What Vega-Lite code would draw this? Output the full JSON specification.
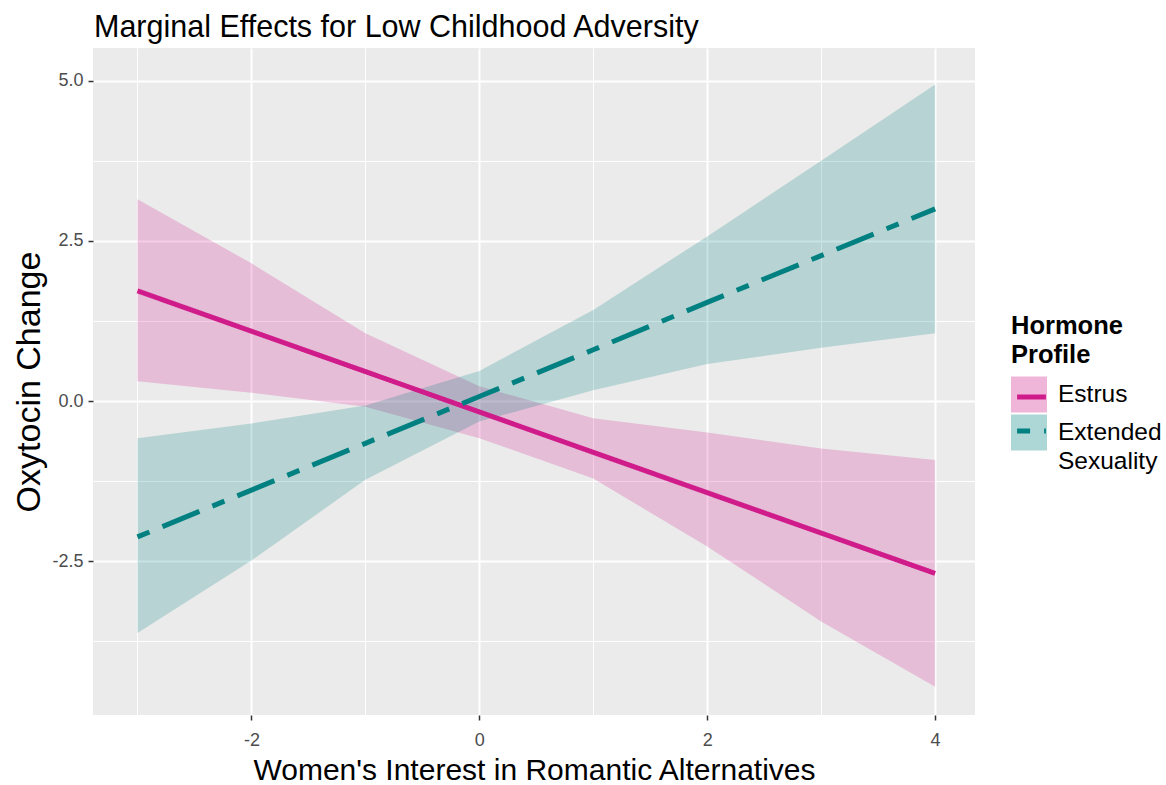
{
  "$schema": "https://vega.github.io/schema/vega-lite/v6.json",
  "width": 882,
  "height": 667,
  "autosize": {"type": "none"},
  "padding": {"left": 93, "top": 48, "right": 191, "bottom": 70},
  "background": "white",
  "title": {
    "text": "Marginal Effects for Low Childhood Adversity",
    "anchor": "start",
    "frame": "group",
    "font": "Liberation Sans",
    "fontSize": 30.5,
    "fontWeight": "normal",
    "color": "#000000",
    "offset": 5,
    "dx": 1
  },
  "config": {
    "view": {"fill": "#EBEBEB", "stroke": null},
    "font": "Liberation Sans"
  },
  "datasets": {
    "ribbons": [
      {"x": -3, "lower": 0.31, "upper": 3.15, "group": "Estrus"},
      {"x": -2, "lower": 0.13, "upper": 2.15, "group": "Estrus"},
      {"x": -1, "lower": -0.09, "upper": 1.06, "group": "Estrus"},
      {"x": 0, "lower": -0.58, "upper": 0.23, "group": "Estrus"},
      {"x": 1, "lower": -1.21, "upper": -0.27, "group": "Estrus"},
      {"x": 2, "lower": -2.27, "upper": -0.49, "group": "Estrus"},
      {"x": 3, "lower": -3.44, "upper": -0.74, "group": "Estrus"},
      {"x": 4, "lower": -4.46, "upper": -0.92, "group": "Estrus"},
      {"x": -3, "lower": -3.62, "upper": -0.58, "group": "Extended Sexuality"},
      {"x": -2, "lower": -2.49, "upper": -0.35, "group": "Extended Sexuality"},
      {"x": -1, "lower": -1.23, "upper": -0.07, "group": "Extended Sexuality"},
      {"x": 0, "lower": -0.32, "upper": 0.47, "group": "Extended Sexuality"},
      {"x": 1, "lower": 0.17, "upper": 1.42, "group": "Extended Sexuality"},
      {"x": 2, "lower": 0.58, "upper": 2.57, "group": "Extended Sexuality"},
      {"x": 3, "lower": 0.83, "upper": 3.75, "group": "Extended Sexuality"},
      {"x": 4, "lower": 1.06, "upper": 4.94, "group": "Extended Sexuality"}
    ],
    "fits": [
      {"x": -3, "fit": 1.72, "profile": "Estrus"},
      {"x": -2, "fit": 1.09, "profile": "Estrus"},
      {"x": -1, "fit": 0.46, "profile": "Estrus"},
      {"x": 0, "fit": -0.17, "profile": "Estrus"},
      {"x": 1, "fit": -0.8, "profile": "Estrus"},
      {"x": 2, "fit": -1.43, "profile": "Estrus"},
      {"x": 3, "fit": -2.06, "profile": "Estrus"},
      {"x": 4, "fit": -2.69, "profile": "Estrus"},
      {"x": -3, "fit": -2.12, "profile": "Extended Sexuality"},
      {"x": -2, "fit": -1.39, "profile": "Extended Sexuality"},
      {"x": -1, "fit": -0.66, "profile": "Extended Sexuality"},
      {"x": 0, "fit": 0.07, "profile": "Extended Sexuality"},
      {"x": 1, "fit": 0.8, "profile": "Extended Sexuality"},
      {"x": 2, "fit": 1.54, "profile": "Extended Sexuality"},
      {"x": 3, "fit": 2.27, "profile": "Extended Sexuality"},
      {"x": 4, "fit": 3.0, "profile": "Extended Sexuality"}
    ]
  },
  "layer": [
    {
      "data": {"name": "ribbons"},
      "mark": {"type": "area", "fillOpacity": 0.22},
      "encoding": {
        "x": {
          "field": "x",
          "type": "quantitative",
          "scale": {"domain": [-3.39, 4.35], "nice": false, "zero": false},
          "axis": {
            "values": [-3, -2, -1, 0, 1, 2, 3, 4],
            "labelExpr": "datum.value % 2 == 0 ? '' + datum.value : ''",
            "domain": false,
            "gridColor": "#FFFFFF",
            "gridWidth": {"condition": {"test": "datum.value % 2 == 0", "value": 2}, "value": 1},
            "tickColor": {"condition": {"test": "datum.value % 2 == 0", "value": "#333333"}, "value": "transparent"},
            "tickSize": 5,
            "tickWidth": 1.5,
            "labelFont": "Liberation Sans",
            "labelFontSize": 18,
            "labelColor": "#4D4D4D",
            "labelPadding": 11,
            "title": "Women's Interest in Romantic Alternatives",
            "titleFont": "Liberation Sans",
            "titleFontSize": 30,
            "titleFontWeight": "normal",
            "titleColor": "#000000",
            "titlePadding": 6
          }
        },
        "y": {
          "field": "upper",
          "type": "quantitative",
          "scale": {"domain": [-4.9, 5.51], "nice": false, "zero": false},
          "axis": {
            "values": [-3.75, -2.5, -1.25, 0, 1.25, 2.5, 3.75, 5],
            "labelExpr": "datum.value % 2.5 == 0 ? replace(format(datum.value, '.1f'), '\u2212', '-') : ''",
            "domain": false,
            "gridColor": "#FFFFFF",
            "gridWidth": {"condition": {"test": "datum.value % 2.5 == 0", "value": 2}, "value": 1},
            "tickColor": {"condition": {"test": "datum.value % 2.5 == 0", "value": "#333333"}, "value": "transparent"},
            "tickSize": 5,
            "tickWidth": 1.5,
            "labelFont": "Liberation Sans",
            "labelFontSize": 18,
            "labelColor": "#4D4D4D",
            "labelPadding": 5,
            "title": "Oxytocin Change",
            "titleFont": "Liberation Sans",
            "titleFontSize": 34,
            "titleFontWeight": "normal",
            "titleColor": "#000000",
            "titlePadding": 5
          }
        },
        "y2": {"field": "lower"},
        "fill": {
          "field": "group",
          "type": "nominal",
          "scale": {"domain": ["Estrus", "Extended Sexuality"], "range": ["#D01C8B", "#008080"]},
          "legend": {
            "orient": "none",
            "legendX": 918,
            "legendY": 266,
            "padding": 0,
            "title": ["Hormone", "\u00a0\u00a0Profile"],
            "titleFont": "Liberation Sans",
            "titleFontSize": 25.5,
            "titleFontWeight": "bold",
            "titleColor": "#000000",
            "titleLineHeight": 29,
            "titlePadding": 8,
            "symbolType": "square",
            "symbolSize": 1296,
            "symbolStrokeWidth": 0,
            "symbolOpacity": 0.32,
            "labelFont": "Liberation Sans",
            "labelFontSize": 24.5,
            "labelColor": "#000000",
            "labelOffset": 11,
            "rowPadding": 2,
            "labelExpr": "datum.label == 'Extended Sexuality' ? ['Extended', 'Sexuality'] : datum.label",
            "encode": {
              "symbols": {"update": {"opacity": {"value": 0.32}}},
              "labels": {"update": {"lineHeight": {"value": 29}}}
            }
          }
        }
      }
    },
    {
      "data": {"name": "fits"},
      "mark": {"type": "line", "strokeWidth": 5, "strokeCap": "butt"},
      "encoding": {
        "x": {"field": "x", "type": "quantitative"},
        "y": {"field": "fit", "type": "quantitative"},
        "stroke": {
          "field": "profile",
          "type": "nominal",
          "scale": {"range": ["#D01C8B", "#008080"]},
          "legend": {
            "orient": "none",
            "legendX": 918,
            "legendY": 266,
            "padding": 0,
            "title": ["\u00a0", "\u00a0"],
            "titleFont": "Liberation Sans",
            "titleFontSize": 25.5,
            "titleFontWeight": "bold",
            "titleColor": "transparent",
            "titleLineHeight": 29,
            "titlePadding": 8,
            "symbolType": "M-0.8,0H0.8",
            "symbolSize": 1296,
            "symbolStrokeWidth": 5,
            "labelFont": "Liberation Sans",
            "labelFontSize": 24.5,
            "labelColor": "transparent",
            "labelOffset": 11,
            "rowPadding": 2,
            "labelExpr": "datum.label == 'Extended Sexuality' ? ['\u00a0', '\u00a0'] : '\u00a0'",
            "encode": {
              "labels": {"update": {"lineHeight": {"value": 29}}}
            }
          }
        },
        "strokeDash": {
          "field": "profile",
          "type": "nominal",
          "scale": {"range": [[1, 0], [13, 14, 40, 14]]},
          "legend": {
            "orient": "none",
            "legendX": 918,
            "legendY": 266,
            "padding": 0,
            "title": ["\u00a0", "\u00a0"],
            "titleFont": "Liberation Sans",
            "titleFontSize": 25.5,
            "titleFontWeight": "bold",
            "titleColor": "transparent",
            "titleLineHeight": 29,
            "titlePadding": 8,
            "symbolType": "M-0.8,0H0.8",
            "symbolSize": 1296,
            "symbolStrokeWidth": 5,
            "labelFont": "Liberation Sans",
            "labelFontSize": 24.5,
            "labelColor": "transparent",
            "labelOffset": 11,
            "rowPadding": 2,
            "labelExpr": "datum.label == 'Extended Sexuality' ? ['\u00a0', '\u00a0'] : '\u00a0'",
            "encode": {
              "labels": {"update": {"lineHeight": {"value": 29}}}
            }
          }
        }
      }
    }
  ]
}
